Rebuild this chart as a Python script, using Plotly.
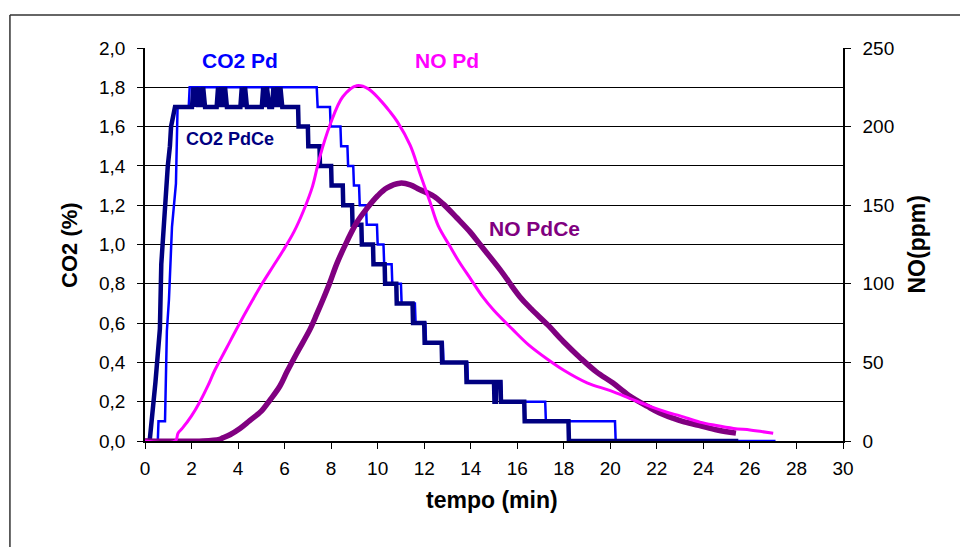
import plotly.graph_objects as go

# CO2 Pd (%), stepped signal
co2_pd_t = [0, 0.55, 0.58, 0.86, 0.94, 1.03, 1.16, 1.33, 1.40, 1.88, 1.92, 7.38, 7.42, 7.95, 7.98,
            8.40, 8.43, 8.70, 8.73, 8.95, 8.98, 9.20, 9.23, 9.50, 9.53, 9.97, 10.0, 10.25, 10.28,
            10.60, 10.63, 11.0, 11.03, 11.60, 11.63, 12.05, 12.08, 12.80, 12.83, 13.85, 13.88,
            15.30, 15.33, 17.20, 17.23, 20.20, 20.23, 27.1]
co2_pd_v = [0, 0, 0.1, 0.1, 0.56, 0.72, 1.09, 1.31, 1.7, 1.7, 1.8, 1.8, 1.7, 1.7, 1.6,
            1.6, 1.5, 1.5, 1.4, 1.4, 1.3, 1.3, 1.2, 1.2, 1.1, 1.1, 1.0, 1.0, 0.9,
            0.9, 0.8, 0.8, 0.7, 0.7, 0.6, 0.6, 0.5, 0.5, 0.4, 0.4, 0.3,
            0.3, 0.2, 0.2, 0.1, 0.1, 0, 0]

# CO2 PdCe (%)
co2_pdce_t = [0, 0.2, 0.45, 0.64, 0.70, 0.85, 0.98, 1.07, 1.12, 1.29,
              2.02, 2.08, 2.14, 2.20, 2.28, 2.34, 2.42, 2.50, 2.58,
              3.08, 3.14, 3.20, 3.28, 3.36, 3.44, 3.52,
              4.10, 4.16, 4.22, 4.30, 4.38,
              5.02, 5.08, 5.16, 5.24, 5.34,
              5.46, 5.52, 5.60, 5.68, 5.76, 5.82, 5.90,
              6.58, 6.60, 7.00, 7.02, 7.50, 7.52, 8.00, 8.02, 8.50, 8.52, 8.90, 8.92,
              9.30, 9.32, 9.80, 9.82, 10.30, 10.32, 10.80, 10.82, 11.50, 11.52, 12.00, 12.02,
              12.75, 12.77, 13.80, 13.82, 15.00, 15.02, 15.08, 15.10, 15.28, 15.30,
              16.30, 16.32, 18.20, 18.22, 25.5]
co2_pdce_v = [0, 0, 0.3, 0.57, 0.9, 1.2, 1.4, 1.5, 1.6, 1.7,
              1.7, 1.8, 1.7, 1.8, 1.7, 1.8, 1.7, 1.8, 1.7,
              1.7, 1.8, 1.7, 1.8, 1.7, 1.8, 1.7,
              1.7, 1.8, 1.7, 1.8, 1.7,
              1.7, 1.8, 1.7, 1.8, 1.7,
              1.7, 1.8, 1.7, 1.8, 1.7, 1.8, 1.7,
              1.7, 1.6, 1.6, 1.5, 1.5, 1.4, 1.4, 1.3, 1.3, 1.2, 1.2, 1.1,
              1.1, 1.0, 1.0, 0.9, 0.9, 0.8, 0.8, 0.7, 0.7, 0.6, 0.6, 0.5,
              0.5, 0.4, 0.4, 0.3, 0.3, 0.2, 0.2, 0.3, 0.3, 0.2,
              0.2, 0.1, 0.1, 0, 0]

# NO Pd (ppm)
no_pd_t = [0, 1.3, 1.42, 1.6, 2.0, 2.36, 2.7, 3.0, 3.5, 4.0, 4.6, 5.03, 5.5, 5.93, 6.4, 6.8,
           7.2, 7.5, 7.95, 8.5, 9.1, 9.6, 10.1, 10.5, 10.85, 11.4, 11.8, 12.25, 12.6, 13.1,
           13.5, 14.0, 14.5, 15.0, 15.8, 16.5, 17.3, 18.0, 19.0, 20.0, 20.85, 21.7, 22.5,
           23.0, 23.85, 24.5, 25.3, 26.0, 26.5, 27.0]
no_pd_v = [0, 0, 5, 8, 16, 25, 35, 45, 59, 73, 89, 100, 111, 121, 133, 146,
           162, 180, 201, 219, 226, 224, 217, 210, 203, 188, 171, 152, 137, 124,
           114, 103, 92, 83, 71, 61, 52, 45, 37, 32, 27, 22, 18,
           16, 12, 10, 8, 7, 6, 5]

# NO PdCe (ppm)
no_pdce_t = [0, 2.5, 3.2, 3.35, 3.65, 4.08, 4.5, 5.0, 5.37, 5.8, 6.1, 6.53, 7.09, 7.39, 7.65,
             7.95, 8.25, 8.68, 9.1, 9.54, 10.0, 10.4, 10.96, 11.4, 11.8, 12.38, 12.8, 13.4,
             13.97, 14.4, 15.26, 16.1, 16.6, 17.3, 18.0, 18.7, 19.4, 20.1, 20.8, 21.6, 22.1,
             22.7, 23.1, 23.8, 24.6, 25.4]
no_pdce_v = [0, 0, 1, 2, 4, 8, 13, 19, 26, 35, 44, 56, 71, 81, 90,
             101, 113, 127, 139, 148, 156, 161, 164, 163, 160, 156, 151, 142,
             133, 125, 109, 92, 84, 74, 63, 53, 44, 37, 29, 22, 18,
             14.5, 12.5, 10, 7, 5]

FONT = "Liberation Sans, Arial, sans-serif"

fig = go.Figure()
fig.add_trace(go.Scatter(x=co2_pd_t, y=co2_pd_v, mode="lines",
                         line=dict(color="#0000FF", width=2.5), name="CO2 Pd"))
fig.add_trace(go.Scatter(x=co2_pdce_t, y=co2_pdce_v, mode="lines",
                         line=dict(color="#000080", width=4.5), name="CO2 PdCe"))
fig.add_trace(go.Scatter(x=no_pdce_t, y=no_pdce_v, mode="lines", yaxis="y2",
                         line=dict(color="#800080", width=5.5, shape="spline"), name="NO PdCe"))
fig.add_trace(go.Scatter(x=no_pd_t, y=no_pd_v, mode="lines", yaxis="y2",
                         line=dict(color="#FF00FF", width=3, shape="spline"), name="NO Pd"))

labels = [
    ("CO2 Pd", 4.08, 1.934, "#0000FF", 21),
    ("NO Pd", 12.98, 1.934, "#FF00FF", 21),
    ("CO2 PdCe", 3.65, 1.537, "#000080", 18),
    ("NO PdCe", 16.76, 1.079, "#800080", 21),
]
for text, x, y, color, size in labels:
    fig.add_annotation(x=x, y=y, xref="x", yref="y", text="<b>%s</b>" % text, showarrow=False,
                       font=dict(family=FONT, size=size, color=color))

fig.add_annotation(x=-0.129, y=0.5, xref="paper", yref="paper", text="<b>CO2 (%)</b>",
                   textangle=-90, showarrow=False, font=dict(family=FONT, size=22, color="black"))
fig.add_annotation(x=1.1275, y=0.5, xref="paper", yref="paper", text="<b>NO(ppm)</b>",
                   textangle=-90, showarrow=False, font=dict(family=FONT, size=23, color="black"))
fig.add_annotation(x=0.497, y=-0.188, xref="paper", yref="paper", text="<b>tempo (min)</b>",
                   showarrow=False, font=dict(family=FONT, size=23, color="black"))

# outer chart frame (cut off at right and bottom)
fig.add_shape(type="line", xref="paper", yref="paper", x0=-0.1935, y0=1.084, x1=1.25, y1=1.084,
              line=dict(color="#333333", width=1.5))
fig.add_shape(type="line", xref="paper", yref="paper", x0=-0.1935, y0=1.084, x1=-0.1935, y1=-0.35,
              line=dict(color="#333333", width=1.5))

fig.update_layout(
    width=968, height=547,
    margin=dict(l=137, r=133, t=40, b=114),
    paper_bgcolor="white", plot_bgcolor="white",
    showlegend=False,
    separators=",.",
    font=dict(family=FONT, size=19, color="black"),
    xaxis=dict(range=[0, 30], dtick=2, tick0=0, showgrid=False, zeroline=False,
               showline=True, linecolor="black", linewidth=1.5,
               ticks="outside", ticklen=6, tickcolor="black", ticklabelstandoff=3),
    yaxis=dict(range=[0, 2], dtick=0.2, tick0=0, tickformat=".1f",
               showgrid=True, gridcolor="black", gridwidth=1, zeroline=False,
               showline=True, linecolor="black", linewidth=1.5,
               ticks="outside", ticklen=6, tickcolor="black", ticklabelstandoff=8),
    yaxis2=dict(range=[0, 250], dtick=50, tick0=0, overlaying="y", side="right",
                showgrid=False, zeroline=False,
                showline=True, linecolor="black", linewidth=1.5,
                ticks="outside", ticklen=6, tickcolor="black", ticklabelstandoff=8),
)

fig.write_html("out.html")
